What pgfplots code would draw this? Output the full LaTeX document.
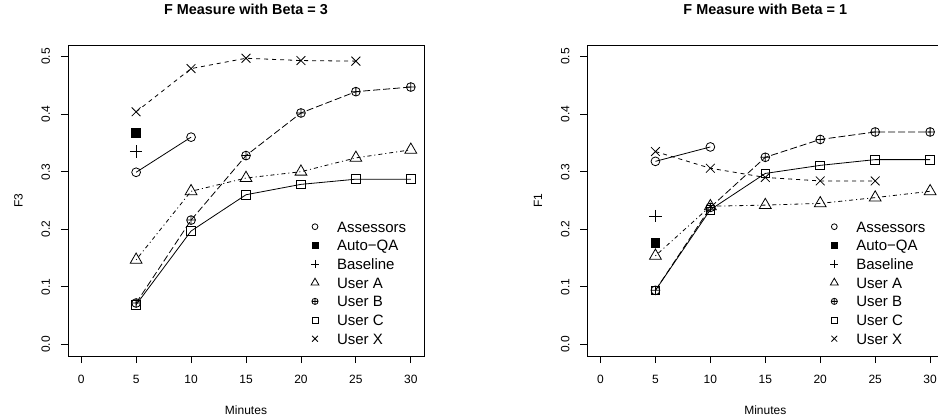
\documentclass[border=0pt]{standalone}
\usepackage{fontspec}
\setmainfont{Liberation Sans}
\usepackage{pgfplots}
\pgfplotsset{compat=1.18}

\pgfplotsset{
  rstyle/.style={
    scale only axis, width=356pt, height=311pt,
    anchor=south west,
    xmin=-1.2, xmax=31.2, ymin=-0.02, ymax=0.52,
    axis line style={black, line width=0.8pt},
    xtick={0,5,10,15,20,25,30},
    xticklabels={0,5,10,15,20,25,30},
    ytick={0,0.1,0.2,0.3,0.4,0.5},
    yticklabels={0.0,0.1,0.2,0.3,0.4,0.5},
    xtick pos=left, ytick pos=left,
    tick align=outside, major tick length=7.2pt,
    tick style={black, line width=0.8pt},
    tick label style={font=\fontsize{12}{14}\selectfont},
    xticklabel style={anchor=base, yshift=-20.3pt},
    yticklabel style={xshift=-10.8pt, rotate=90, anchor=base},
    label style={font=\fontsize{12}{14}\selectfont},
    xlabel style={at={(axis description cs:0.5,-0.18971)}, anchor=base},
    ylabel style={at={(axis description cs:-0.12725,0.5)}, anchor=base},
    title style={at={(axis description cs:0.5,1.08039)}, anchor=base, font=\fontsize{14.4}{17}\selectfont\bfseries},
    xlabel={Minutes},
    legend cell align=left,
    legend style={draw=none, fill=none, inner sep=0pt, outer sep=0pt,
      at={(axis description cs:0.6798,0.4426)}, anchor=north west,
      font=\fontsize{15}{18}\selectfont, row sep=1.97pt,
      nodes={inner sep=0pt, text height=13.7pt, text depth=3pt}},
    legend image code/.code={\path[draw=none, fill=none] (-5pt,-5pt) rectangle (22pt,5pt);
      \draw[##1] plot coordinates {(0pt,0pt)};},
    every axis plot/.append style={black, line width=0.8pt},
  },
  pAss/.style={solid, mark=o, mark size=4.4pt, mark options={solid, fill=white}},
  pAuto/.style={only marks, mark=square*, mark size=4.4pt, mark options={solid, fill=black}},
  pBase/.style={only marks, mark=+, mark size=6.2pt, mark options={solid}},
  pA/.style={dash pattern=on 1pt off 3pt on 4pt off 3pt, mark=triangle, mark size=6.8pt, mark options={solid, fill=white}},
  pB/.style={dash pattern=on 7pt off 3pt, mark=oplus, mark size=4.4pt, mark options={solid, fill=white}},
  pC/.style={solid, mark=square, mark size=4.4pt, mark options={solid, fill=white}},
  pX/.style={dash pattern=on 4pt off 4pt, mark=x, mark size=6.2pt, mark options={solid}},
}

\newcommand{\addlegendall}{%
  \addlegendimage{only marks, mark=o, mark size=2.9pt, line width=0.8pt}
  \addlegendentry{Assessors}
  \addlegendimage{only marks, mark=square*, mark size=2.9pt, line width=0.8pt}
  \addlegendentry{Auto−QA}
  \addlegendimage{only marks, mark=+, mark size=4.1pt, line width=0.8pt}
  \addlegendentry{Baseline}
  \addlegendimage{only marks, mark=triangle, mark size=4.5pt, line width=0.8pt}
  \addlegendentry{User A}
  \addlegendimage{only marks, mark=oplus, mark size=3.1pt, line width=0.8pt}
  \addlegendentry{User B}
  \addlegendimage{only marks, mark=square, mark size=2.9pt, line width=0.8pt}
  \addlegendentry{User C}
  \addlegendimage{only marks, mark=x, mark size=4.1pt, line width=0.8pt}
  \addlegendentry{User X}
}

\begin{document}
\begin{tikzpicture}
\useasboundingbox (0,0) rectangle (938pt,420pt);
\clip (0,0) rectangle (938pt,420pt);
\begin{axis}[rstyle, at={(68pt,64pt)}, title={F Measure with Beta = 3}, ylabel={F3}]
\addplot[pAss, forget plot] coordinates {(5,0.299) (10,0.360)};
\addplot[pAuto, forget plot] coordinates {(5,0.368)};
\addplot[pBase, forget plot] coordinates {(5,0.335)};
\addplot[pA, forget plot] coordinates {(5,0.147) (10,0.266) (15,0.289) (20,0.300) (25,0.324) (30,0.338)};
\addplot[pB, forget plot] coordinates {(5,0.072) (10,0.216) (15,0.328) (20,0.402) (25,0.439) (30,0.447)};
\addplot[pC, forget plot] coordinates {(5,0.069) (10,0.197) (15,0.260) (20,0.278) (25,0.287) (30,0.287)};
\addplot[pX, forget plot] coordinates {(5,0.404) (10,0.479) (15,0.497) (20,0.493) (25,0.492)};
\addlegendall
\end{axis}
\begin{axis}[rstyle, at={(587.3pt,64pt)}, title={F Measure with Beta = 1}, ylabel={F1}]
\addplot[pAss, forget plot] coordinates {(5,0.318) (10,0.343)};
\addplot[pAuto, forget plot] coordinates {(5,0.176)};
\addplot[pBase, forget plot] coordinates {(5,0.223)};
\addplot[pA, forget plot] coordinates {(5,0.154) (10,0.240) (15,0.242) (20,0.245) (25,0.255) (30,0.266)};
\addplot[pB, forget plot] coordinates {(5,0.094) (10,0.238) (15,0.325) (20,0.356) (25,0.369) (30,0.369)};
\addplot[pC, forget plot] coordinates {(5,0.094) (10,0.234) (15,0.297) (20,0.311) (25,0.321) (30,0.321)};
\addplot[pX, forget plot] coordinates {(5,0.335) (10,0.306) (15,0.290) (20,0.284) (25,0.284)};
\addlegendall
\end{axis}
\end{tikzpicture}
\end{document}
